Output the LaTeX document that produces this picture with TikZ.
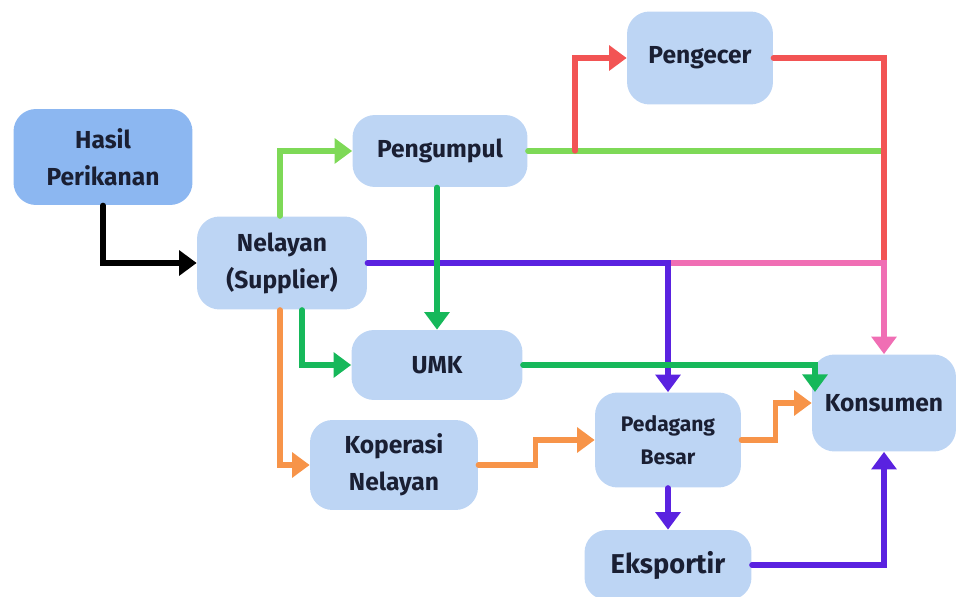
\documentclass[tikz,border=0pt]{standalone}
\usepackage{fontspec}
\setmainfont{Fira Sans}
\usepackage{tikz}
\usetikzlibrary{arrows.meta}

\begin{document}
\begin{tikzpicture}
			[x=0.02cm,y=-0.02cm,line cap=round,
			%Styles
			box/.style={rounded corners=0.45cm,fill=boxblue,text=boxtext,align=center,
				inner sep=2pt,font=\bfseries\fontsize{14}{21}\selectfont},
			flow/.style={line width=3pt,-{Triangle[length=10pt,width=14pt]}},
			plain flow/.style={line width=3pt}
			]
			
			%Colors
			\definecolor{boxblue}{HTML}{BDD5F4}
			\definecolor{darkbox}{HTML}{8CB7F1}
			\definecolor{boxtext}{HTML}{1A1F33}
			\definecolor{lightgreen}{HTML}{7ED957}
			\definecolor{redline}{HTML}{F25454}
			\definecolor{pinkline}{HTML}{F06EB4}
			\definecolor{tealgreen}{HTML}{16B85A}
			\definecolor{purpleline}{HTML}{5A22E0}
			\definecolor{orangeline}{HTML}{F79449}
			
			\useasboundingbox (0,0) rectangle (956,597);
			
			%The graphic
			\node[box,fill=darkbox,minimum width=3.58cm,minimum height=1.92cm] (hasil) at (103,157) {Hasil\\Perikanan};
			\node[box,minimum width=3.4cm,minimum height=1.86cm] (nelayan) at (282,263) {Nelayan\\(Supplier)};
			\node[box,minimum width=3.5cm,minimum height=1.44cm] (pengumpul) at (440,151) {Pengumpul};
			\node[box,minimum width=2.92cm,minimum height=1.86cm] (pengecer) at (700,58) {Pengecer};
			\node[box,minimum width=3.42cm,minimum height=1.4cm] (umk) at (437,365) {UMK};
			\node[box,minimum width=3.36cm,minimum height=1.8cm] (koperasi) at (394,465) {Koperasi\\Nelayan};
			\node[box,minimum width=2.92cm,minimum height=1.9cm,font=\bfseries\fontsize{12}{19}\selectfont] (pedagang) at (668,440) {Pedagang\\Besar};
			\node[box,minimum width=3.34cm,minimum height=1.4cm,font=\bfseries\fontsize{15.5}{20}\selectfont] (eksportir) at (668,565) {Eksportir};
			\node[box,minimum width=2.88cm,minimum height=1.94cm] (konsumen) at (884,403) {Konsumen};
			
			\coordinate (split) at (575,151);
			\coordinate (greenend) at (884,151);
			\coordinate (purplesplit) at (668,263);
			\coordinate (pinkjoin) at (884,263);
			\coordinate (kcorner) at (815,392);
			
			\draw[flow,black] (hasil.south) |- (nelayan.west);
			\draw[flow,lightgreen] (nelayan.north -| 280,0) |- (pengumpul.west);
			\draw[plain flow,lightgreen] (pengumpul.east) -- (greenend);
			\draw[flow,redline] (split) |- (pengecer.west);
			\draw[plain flow,redline] (pengecer.east) -| (pinkjoin);
			\draw[flow,pinkline] (purplesplit) -- (pinkjoin) -- (konsumen.north);
			\draw[flow,purpleline] (nelayan.east) -| (pedagang.north);
			\draw[flow,tealgreen] (pengumpul.south -| umk.north) -- (umk.north);
			\draw[flow,tealgreen] (nelayan.south -| 302,0) |- (umk.west);
			\draw[flow,tealgreen] (umk.east) -| (kcorner);
			\draw[flow,orangeline] (nelayan.south -| 280,0) |- (koperasi.west);
			\draw[flow,orangeline] (koperasi.east) -- ++(57,0) |- (pedagang.west);
			\draw[flow,orangeline] (pedagang.east) -- ++(34,0) |- (konsumen.west);
			\draw[flow,purpleline] (pedagang.south) -- (eksportir.north);
			\draw[flow,purpleline] (eksportir.east) -| (konsumen.south);
		\end{tikzpicture}
\end{document}
